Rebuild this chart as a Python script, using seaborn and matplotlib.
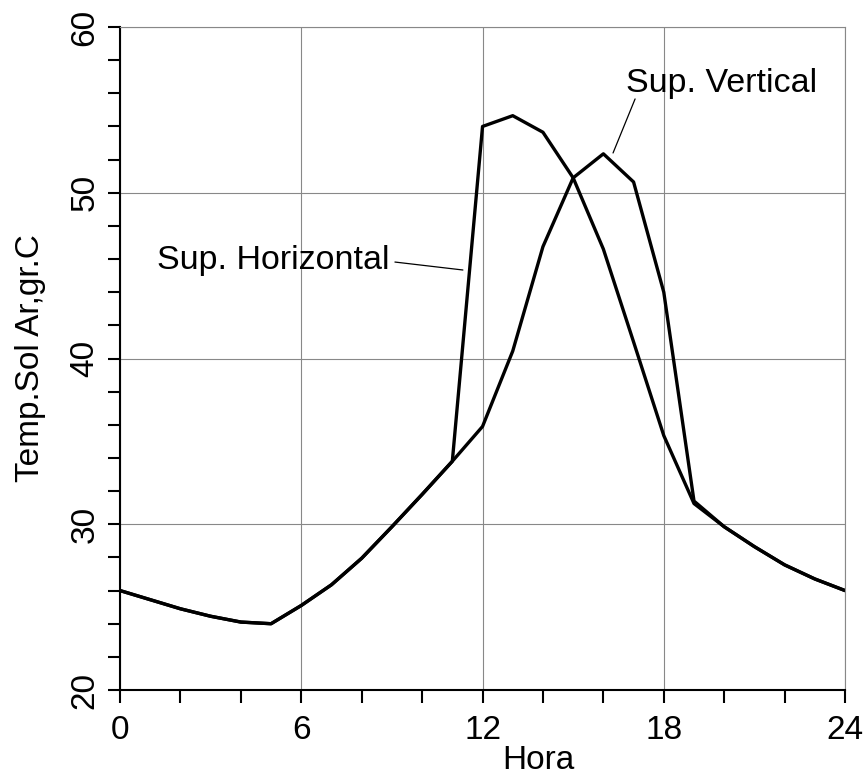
import pandas as pd
import matplotlib.pyplot as plt
import matplotlib.ticker as mticker
import seaborn as sns

hours = list(range(25))
sup_horizontal = [26.0, 25.45, 24.9, 24.45, 24.1, 24.0, 25.1, 26.35, 27.95, 29.85,
                  31.8, 33.8, 54.0, 54.65, 53.65, 50.9, 46.6, 41.0, 35.35, 31.25,
                  29.85, 28.65, 27.55, 26.7, 26.0]
sup_vertical = [26.0, 25.45, 24.9, 24.45, 24.1, 24.0, 25.1, 26.35, 27.95, 29.85,
                31.8, 33.8, 35.9, 40.45, 46.75, 50.9, 52.35, 50.65, 44.0, 31.4,
                29.85, 28.65, 27.55, 26.7, 26.0]

x_ticks = [0, 6, 12, 18, 24]
y_ticks = [20, 30, 40, 50, 60]

sns.set_style('ticks')
plt.rcParams['font.family'] = ['Liberation Sans', 'DejaVu Sans']
plt.rcParams['text.color'] = 'black'

df = pd.DataFrame({'Hora': hours * 2,
                   'Temp': sup_horizontal + sup_vertical,
                   'Serie': ['Sup. Horizontal'] * 25 + ['Sup. Vertical'] * 25})

fig = plt.figure(figsize=(8.66, 7.76), dpi=100)
ax = fig.add_axes([0.1386, 0.1108, 0.8372, 0.8544])

sns.lineplot(data=df, x='Hora', y='Temp', hue='Serie',
             palette=['black', 'black'], linewidth=2.4, legend=False, ax=ax)

ax.set_xlim(0, 24)
ax.set_ylim(20, 60)
ax.set_xticks(x_ticks)
ax.set_yticks(y_ticks)
ax.xaxis.set_minor_locator(mticker.MultipleLocator(2))
ax.yaxis.set_minor_locator(mticker.MultipleLocator(2))
ax.grid(True, which='major', color='#888888', linewidth=0.8)

ax.tick_params(which='both', direction='out', length=9, width=1.5, color='black')
ax.tick_params(axis='both', labelsize=24, labelcolor='black')
ax.tick_params(axis='x', pad=9)
ax.tick_params(axis='y', pad=5, labelrotation=90)
for lbl in ax.get_yticklabels():
    lbl.set_va('center')

for side in ['left', 'bottom']:
    ax.spines[side].set_linewidth(1.5)
    ax.spines[side].set_color('black')
for side in ['top', 'right']:
    ax.spines[side].set_linewidth(0.8)
    ax.spines[side].set_color('#888888')

ax.set_xlabel('Hora', fontsize=24, color='black')
ax.xaxis.set_label_coords(0.577, -0.083, transform=ax.transAxes)
ax.xaxis.label.set_va('top')
ax.set_ylabel('Temp.Sol Ar,gr.C', fontsize=24, color='black', labelpad=17)

ax.text(1.22, 45.4, 'Sup. Horizontal', fontsize=24.5, ha='left', va='baseline')
ax.annotate('', xy=(11.35, 45.34), xytext=(9.10, 45.82),
            arrowprops=dict(arrowstyle='-', lw=0.9, color='black', shrinkA=0, shrinkB=0))
ax.text(16.75, 56.08, 'Sup. Vertical', fontsize=24.5, ha='left', va='baseline')
ax.annotate('', xy=(16.32, 52.40), xytext=(17.05, 55.66),
            arrowprops=dict(arrowstyle='-', lw=0.9, color='black', shrinkA=0, shrinkB=0))

fig.savefig('out.png', dpi=100)
